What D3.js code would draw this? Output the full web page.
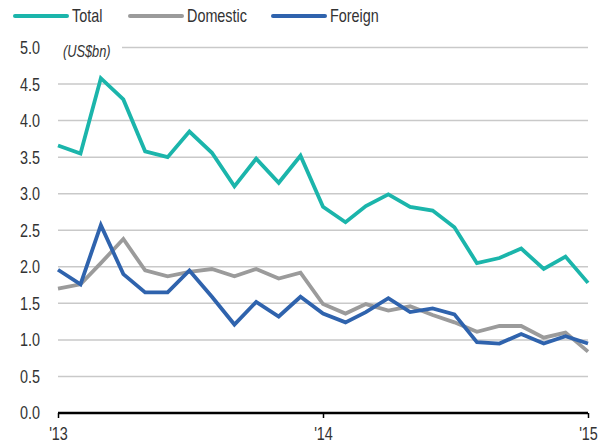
<!DOCTYPE html>
<html>
<head>
<meta charset="utf-8">
<script src="https://cdn.jsdelivr.net/npm/d3@7"></script>
<style>
  html, body { margin: 0; padding: 0; background: #fff; }
  svg { display: block; font-family: "Liberation Sans", Arial, sans-serif; }
</style>
</head>
<body>
<svg id="chart" width="608" height="447"></svg>
<script>
// Monthly values, Jan 2013 – Jan 2015 (US$bn)
const months = d3.range(25).map(i => new Date(2013, i, 1));
const total    = [3.66, 3.55, 4.58, 4.29, 3.58, 3.50, 3.85, 3.56, 3.10, 3.48, 3.15, 3.52,
                  2.82, 2.61, 2.83, 2.99, 2.82, 2.77, 2.54, 2.05, 2.12, 2.25, 1.97, 2.14, 1.78];
const domestic = [1.70, 1.76, 2.05, 2.38, 1.95, 1.87, 1.93, 1.97, 1.87, 1.97, 1.84, 1.92,
                  1.49, 1.36, 1.49, 1.40, 1.46, 1.34, 1.24, 1.11, 1.19, 1.19, 1.03, 1.10, 0.84];
const foreign  = [1.96, 1.76, 2.57, 1.90, 1.65, 1.65, 1.95, 1.59, 1.21, 1.52, 1.32, 1.59,
                  1.36, 1.24, 1.38, 1.57, 1.38, 1.43, 1.35, 0.97, 0.95, 1.08, 0.95, 1.05, 0.95];
const seriesNames = ["Total", "Domestic", "Foreign"];
const seriesColors = ["#1bb5ab", "#9b9b9b", "#2f63ad"];
const yTicks = [0, 0.5, 1, 1.5, 2, 2.5, 3, 3.5, 4, 4.5, 5];
const xTickDates = [new Date(2013, 0, 1), new Date(2014, 0, 1), new Date(2015, 0, 1)];
const xTickLabels = ["'13", "'14", "'15"];
const unitLabel = "(US$bn)";

const svg = d3.select("#chart");
const plotLeft = 58, plotRight = 588, plotTop = 47.5, plotBottom = 413;
const narrow = "scale(0.8,1)";   // condensed lettering

const x = d3.scaleTime().domain([months[0], months[24]]).range([plotLeft, plotRight]);
const y = d3.scaleLinear().domain([0, 5]).range([plotBottom, plotTop]);

// horizontal gridlines
svg.append("g").selectAll("line")
  .data(yTicks.filter(v => v > 0))
  .join("line")
  .attr("x1", d => d === 5 ? 122 : plotLeft)
  .attr("x2", plotRight)
  .attr("y1", d => y(d)).attr("y2", d => y(d))
  .attr("stroke", "#c9c9c9").attr("stroke-width", 1.5);

// y tick labels
svg.append("g").selectAll("text")
  .data(yTicks)
  .join("text")
  .attr("transform", d => `translate(40,${y(d)}) ${narrow}`)
  .attr("dy", "0.36em")
  .attr("text-anchor", "end")
  .attr("font-size", 18)
  .attr("fill", "#333")
  .text(d => d3.format(".1f")(d));

// unit label
svg.append("text")
  .attr("transform", `translate(63,${y(5) + 9}) ${narrow}`)
  .attr("font-size", 16).attr("font-style", "italic")
  .attr("fill", "#333")
  .text(unitLabel);

// x axis
const xAxis = d3.axisBottom(x)
  .tickValues(xTickDates)
  .tickFormat((d, i) => xTickLabels[i])
  .tickSize(5)
  .tickPadding(9);
const gx = svg.append("g").attr("transform", `translate(0,${plotBottom})`).call(xAxis);
gx.select(".domain").attr("stroke", "#000").attr("stroke-width", 2.5).attr("d", `M${plotLeft},0H${plotRight}`);
gx.selectAll(".tick line").attr("stroke", "#000").attr("stroke-width", 1.5);
gx.selectAll(".tick text")
  .attr("transform", narrow)
  .attr("font-size", 18).attr("fill", "#333")
  .attr("font-family", "\"Liberation Sans\", Arial, sans-serif");

// series lines
const line = d3.line().x((d, i) => x(months[i])).y(d => y(d));
[domestic, total, foreign].forEach((vals, k) => {
  const idx = [1, 0, 2][k];
  svg.append("path")
    .datum(vals)
    .attr("d", line)
    .attr("fill", "none")
    .attr("stroke", seriesColors[idx])
    .attr("stroke-width", 3.8)
    .attr("stroke-linejoin", "miter");
});

// legend
const legendX = [15, 130, 273];
const lg = svg.append("g");
seriesNames.forEach((name, i) => {
  lg.append("line")
    .attr("x1", legendX[i]).attr("x2", legendX[i] + 52)
    .attr("y1", 16).attr("y2", 16)
    .attr("stroke", seriesColors[i]).attr("stroke-width", 4)
    .attr("stroke-linecap", "round");
  lg.append("text")
    .attr("transform", `translate(${legendX[i] + 57},16) ${narrow}`)
    .attr("dy", "0.36em")
    .attr("font-size", 18).attr("fill", "#333")
    .text(name);
});
</script>
</body>
</html>
